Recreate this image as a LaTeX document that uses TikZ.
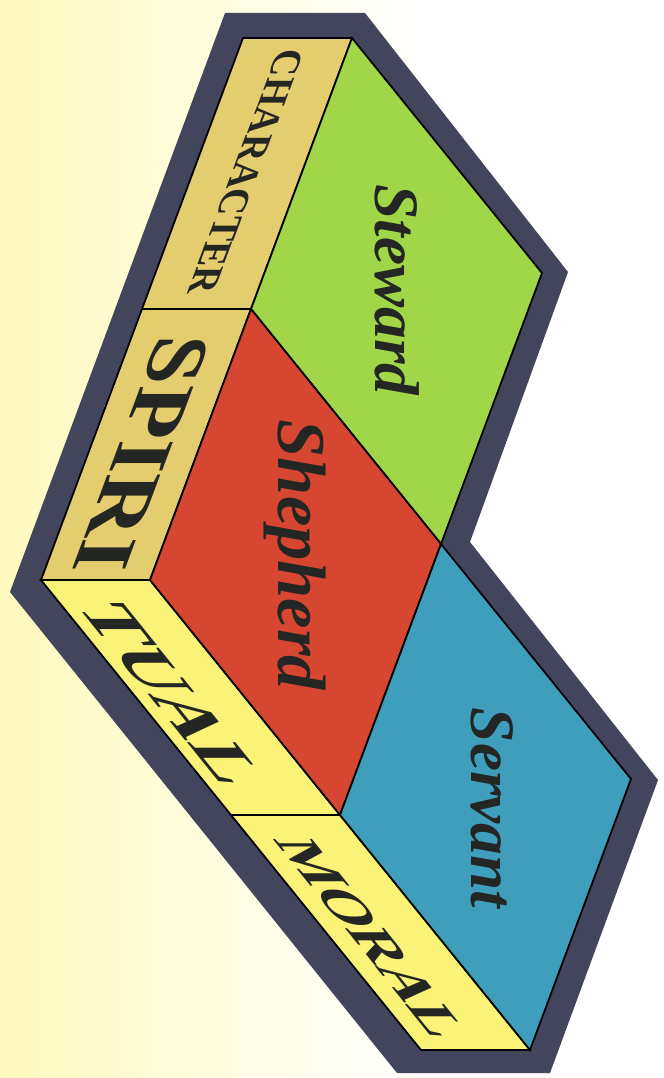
\documentclass[tikz,border=0pt]{standalone}
\usepackage{fontspec}
\setmainfont{Liberation Serif}
\usepackage{xcolor}
\definecolor{bgyellow}{RGB}{255,250,190}
\definecolor{rim}{RGB}{66,69,92}
\definecolor{stewardgreen}{RGB}{160,214,72}
\definecolor{shepherdred}{RGB}{214,70,48}
\definecolor{servantblue}{RGB}{62,158,188}
\definecolor{sidetan}{RGB}{227,205,110}
\definecolor{sideyellow}{RGB}{250,243,120}
\definecolor{ink}{RGB}{36,38,36}

\begin{document}
\begin{tikzpicture}[x=0.02cm, y=-0.02cm,
    face/.style={draw=black, line width=1pt, line join=miter},
    topword/.style={font=\bfseries\itshape\fontsize{#1}{#1}\selectfont, text=ink, rotate=-90, inner sep=0pt},
    sideword/.style={font=\bfseries\fontsize{#1}{#1}\selectfont, text=ink, inner sep=0pt, transform shape}]
      \useasboundingbox (0,0) rectangle (663,1078);
      \fill[white] (0,0) rectangle (663,1078);
      \shade[left color=bgyellow, right color=white] (0,0) rectangle (420,1078);

      \fill[rim] (225,13) -- (365,13) -- (568,272) -- (470,542) -- (658,780) -- (550,1073) -- (397,1073) -- (10,592) -- cycle;

      \coordinate (c0) at (352,38);
      \coordinate (c1) at (542,273);
      \coordinate (c2) at (251,309);
      \coordinate (c3) at (441,544);
      \coordinate (c4) at (150,580);
      \coordinate (c5) at (340,815);
      \coordinate (c6) at (631,779);
      \coordinate (c7) at (530,1050);
      \coordinate (q0) at (243,38);
      \coordinate (q2) at (142,309);
      \coordinate (q4) at (41,580);
      \coordinate (q5) at (231,815);
      \coordinate (q7) at (421,1050);

      \path[face, fill=sidetan] (q0) -- (c0) -- (c2) -- (q2) -- cycle;
      \path[face, fill=sidetan] (q2) -- (c2) -- (c4) -- (q4) -- cycle;
      \path[face, fill=sideyellow] (q4) -- (c4) -- (c5) -- (q5) -- cycle;
      \path[face, fill=sideyellow] (q5) -- (c5) -- (c7) -- (q7) -- cycle;
      \path[face, fill=stewardgreen] (c0) -- (c1) -- (c3) -- (c2) -- cycle;
      \path[face, fill=shepherdred] (c2) -- (c3) -- (c5) -- (c4) -- cycle;
      \path[face, fill=servantblue] (c3) -- (c6) -- (c7) -- (c5) -- cycle;

      \node[topword=36] (steward) at (397,290) {Steward};
      \node[topword=39] (shepherd) at (295,555) {Shepherd};
      \node[topword=36] (servant) at (492,808) {Servant};

      \begin{scope}[shift={(246,172)}, cm={-0.350,-0.937,1,0,(0,0)}]
        \node[sideword=23] (character) {CHARACTER};
      \end{scope}
      \begin{scope}[shift={(142,454)}, cm={-0.410,-1.096,1,0,(0,0)}]
        \node[sideword=46] (spiri) {SPIRI};
      \end{scope}
      \begin{scope}[shift={(172,694)}, cm={0.721,-0.896,1,0,(0,0)}]
        \node[sideword=42] (tual) {TUAL};
      \end{scope}
      \begin{scope}[shift={(372,938)}, cm={0.702,-0.872,1,0,(0,0)}]
        \node[sideword=34] (moral) {MORAL};
      \end{scope}
    \end{tikzpicture}
\end{document}
